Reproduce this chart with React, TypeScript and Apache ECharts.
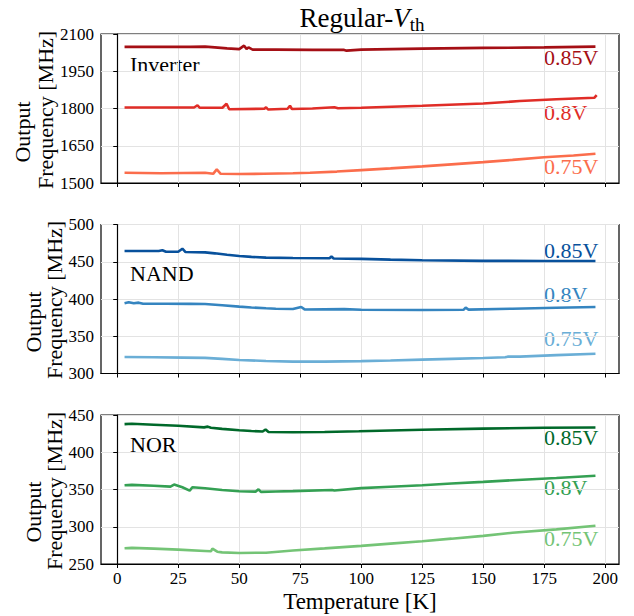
import React, { useEffect, useRef } from 'react';
import * as echarts from 'echarts';

const xTicks = [0, 25, 50, 75, 100, 125, 150, 175, 200];

// Inverter
const inv85T = [3, 10, 20, 30, 36, 40, 45, 50, 52, 53, 53.8, 55.5, 65, 80, 93, 94, 100, 125, 150, 175, 196];
const inv85F = [2048, 2048, 2048, 2048, 2049, 2046, 2042, 2039, 2053, 2040, 2046, 2037, 2037, 2036, 2036, 2033, 2037, 2041, 2044, 2046, 2049];
const inv80T = [3, 20, 31.5, 32.9, 33.8, 43.1, 44.8, 45.9, 60.3, 61, 61.8, 69.8, 70.8, 71.6, 80, 89, 90.5, 100, 125, 150, 165, 180, 195.5, 196.5];
const inv80F = [1804, 1804, 1804, 1813, 1803, 1803, 1819, 1797, 1799, 1805, 1796, 1799, 1811, 1798, 1800, 1805, 1801, 1803, 1811, 1820, 1830, 1837, 1843, 1854];
const inv75T = [3, 18, 36, 39.3, 40.8, 42.4, 50, 60, 72, 79, 90, 100, 112, 125, 137, 150, 162, 175, 187, 196];
const inv75F = [1541, 1539, 1541, 1537, 1555, 1537, 1536, 1537, 1539, 1541, 1546, 1552, 1559, 1567, 1575, 1584, 1593, 1604, 1611, 1618];

// NAND
const nand85T = [3, 17, 18.5, 20, 25, 26.7, 28, 36, 40, 45, 50, 55, 61, 72, 87, 87.8, 88.7, 100, 112, 125, 150, 175, 196];
const nand85F = [464.4, 464.5, 465.5, 463.5, 463.5, 467.5, 463, 462.6, 461.3, 459.5, 457.8, 456.5, 455.6, 455, 454.6, 457, 454.3, 453.8, 452.8, 452, 451.2, 451, 451];
const nand80T = [3, 4.7, 6.8, 8.8, 10.6, 20, 30, 36, 43, 50, 55, 61, 65, 72, 75.4, 76.8, 93, 100, 125, 141.9, 142.8, 144, 162, 180, 196];
const nand80F = [394.2, 395.6, 394.2, 395.1, 393.6, 393.6, 393.4, 393.2, 391.6, 389.8, 388.6, 387.6, 387, 386.5, 389.3, 386, 386.4, 385.5, 385.3, 385.5, 388.4, 385.8, 387, 388.3, 389.3];
const nand75T = [3, 15, 27, 36, 43, 50, 61, 72, 85, 100, 112, 125, 137, 150, 159, 160, 165, 180, 196];
const nand75F = [322.2, 321.8, 321.3, 321, 319.6, 318.2, 316.8, 315.9, 316, 316.6, 317.4, 318.6, 319.6, 320.8, 321.8, 322.6, 322.6, 324.6, 326.5];

// NOR
const nor85T = [3, 6, 15, 25, 35.6, 37.1, 38.4, 43, 50, 55, 59.6, 60.8, 62, 72, 85, 99, 112, 125, 150, 175, 196];
const nor85F = [437.8, 438.2, 437, 435.6, 433.4, 434.4, 432.8, 431.4, 429.6, 428.5, 427.8, 430.6, 427.2, 426.8, 427.2, 428.2, 429.2, 430.2, 431.7, 432.8, 433.3];
const nor80T = [3, 6, 15, 21.8, 23.3, 26.7, 29.7, 30.8, 36, 43, 50, 56.8, 57.9, 58.9, 65, 72, 88, 89, 100, 112, 125, 137, 150, 162, 180, 196];
const nor80F = [355.7, 356.2, 355, 353.9, 356.6, 353, 348.5, 353, 351.7, 349.4, 347.6, 347.2, 350.3, 346.8, 347.4, 347.8, 349.4, 348.6, 351.8, 353.7, 355.8, 358, 360.2, 362.4, 365.5, 368.5];
const nor75T = [3, 6, 15, 25, 36, 38.4, 39, 41, 43, 50, 61, 72, 85, 100, 112, 125, 137, 150, 162, 180, 196];
const nor75F = [271.1, 271.6, 270.6, 269.3, 267.5, 267.1, 270.7, 266.5, 265.6, 264.8, 265.2, 268.2, 271, 274.3, 277.3, 280.6, 284, 287.8, 292, 296.5, 301.3];

const panelNames = ['Inverter', 'NAND', 'NOR'];
const voltLabels = ['0.85V', '0.8V', '0.75V'];
const yMins = [1500, 300, 250];
const yMaxs = [2100, 500, 450];
const yIntervals = [150, 50, 50];

const colors = [
  ['#a50f15', '#e02d27', '#fb6d4c'],
  ['#08519c', '#3585c0', '#6aaed6'],
  ['#00692a', '#34a053', '#74c476'],
];

const FONT = 'Liberation Serif';

export default function App() {
  const ref = useRef<HTMLDivElement>(null);
  useEffect(() => {
    const chart = echarts.init(ref.current!, null, { renderer: 'svg' });
    const gridTops = [34, 224.5, 415];
    const H = 149;
    const left = 101;
    const width = 518;
    const seriesData = [
      [[inv85T, inv85F], [inv80T, inv80F], [inv75T, inv75F]],
      [[nand85T, nand85F], [nand80T, nand80F], [nand75T, nand75F]],
      [[nor85T, nor85F], [nor80T, nor80F], [nor75T, nor75F]],
    ];
    const grids = gridTops.map((t) => ({
      left, top: t, width, height: H,
      show: true, borderColor: '#000', borderWidth: 1.2, backgroundColor: 'transparent',
    }));
    const xAxes = gridTops.map((_, i) => ({
      type: 'value', gridIndex: i, min: -6.65, max: 205.65,
      axisLine: { show: true, onZero: false, lineStyle: { color: '#000', width: 1.2 } },
      axisTick: { show: true, length: 4, lineStyle: { color: '#000', width: 1 }, customValues: xTicks },
      axisLabel: { show: i === 2, customValues: xTicks, color: '#000', fontSize: 17, fontFamily: FONT, margin: 6, formatter: (v: number) => String(v) },
      splitLine: { show: true, lineStyle: { color: '#e3e3e3', width: 1 } },
      name: i === 2 ? 'Temperature [K]' : '',
      nameLocation: 'middle', nameGap: 26,
      nameTextStyle: { color: '#000', fontSize: 23, fontFamily: FONT },
    }));
    const yAxes = gridTops.map((_, i) => ({
      type: 'value', gridIndex: i, min: yMins[i], max: yMaxs[i], interval: yIntervals[i],
      axisLine: { show: true, lineStyle: { color: '#000', width: 1.2 } },
      axisTick: { show: true, length: 4, lineStyle: { color: '#000', width: 1 } },
      axisLabel: { color: '#000', fontSize: 17, fontFamily: FONT, margin: 7, formatter: (v: number) => String(v) },
      splitLine: { show: true, lineStyle: { color: '#e3e3e3', width: 1 } },
    }));
    const series: any[] = [];
    seriesData.forEach((panel, pi) => {
      panel.forEach(([T, F], si) => {
        series.push({
          type: 'line', xAxisIndex: pi, yAxisIndex: pi,
          data: T.map((t: number, k: number) => [t, F[k]]),
          showSymbol: false, symbol: 'none',
          lineStyle: { width: 2.6, color: colors[pi][si] },
          itemStyle: { color: colors[pi][si] },
          z: 3,
        });
      });
    });
    const voltY = [[57, 112, 166], [250, 294.5, 338], [437.5, 487.5, 538]];
    const nameY = [64.5, 273.5, 444.7];
    const outX = [22.5, 33, 33];
    const freqX = [45, 54, 54];
    const outY = [132, 322, 512];
    const freqY = [110, 300, 491];
    const graphics: any[] = [];
    panelNames.forEach((n, pi) => {
      graphics.push({ type: 'text', x: 130, y: nameY[pi], style: { text: n, fontSize: 22, fontFamily: FONT, fill: '#000', align: 'left', verticalAlign: 'middle' } });
      voltLabels.forEach((v, si) => {
        graphics.push({ type: 'text', x: 544, y: voltY[pi][si], style: { text: v, fontSize: 22, fontFamily: FONT, fill: colors[pi][si], align: 'left', verticalAlign: 'middle' } });
      });
      graphics.push({ type: 'text', x: outX[pi], y: outY[pi], rotation: Math.PI / 2, style: { text: 'Output', fontSize: 22, fontFamily: FONT, fill: '#000', align: 'center', verticalAlign: 'middle' } });
      graphics.push({ type: 'text', x: freqX[pi], y: freqY[pi], rotation: Math.PI / 2, style: { text: 'Frequency [MHz]', fontSize: 22, fontFamily: FONT, fill: '#000', align: 'center', verticalAlign: 'middle' } });
    });
    graphics.push({
      type: 'text', x: 362, y: 18,
      style: {
        text: '{r|Regular-}{i|V}{s|th}', align: 'center', verticalAlign: 'middle',
        rich: {
          r: { fontSize: 27, fontFamily: FONT, fill: '#000', lineHeight: 32 },
          i: { fontSize: 27, fontFamily: FONT, fontStyle: 'italic', fill: '#000', lineHeight: 32 },
          s: { fontSize: 19, fontFamily: FONT, fill: '#000', lineHeight: 16, verticalAlign: 'bottom' },
        },
      },
    });
    chart.setOption({
      animation: false,
      backgroundColor: '#fff',
      textStyle: { fontFamily: FONT },
      grid: grids,
      xAxis: xAxes,
      yAxis: yAxes,
      series,
      graphic: graphics,
    });
    return () => chart.dispose();
  }, []);
  return <div ref={ref} style={{ position: 'absolute', left: 0, top: 0, width: 634, height: 616 }} />;
}
